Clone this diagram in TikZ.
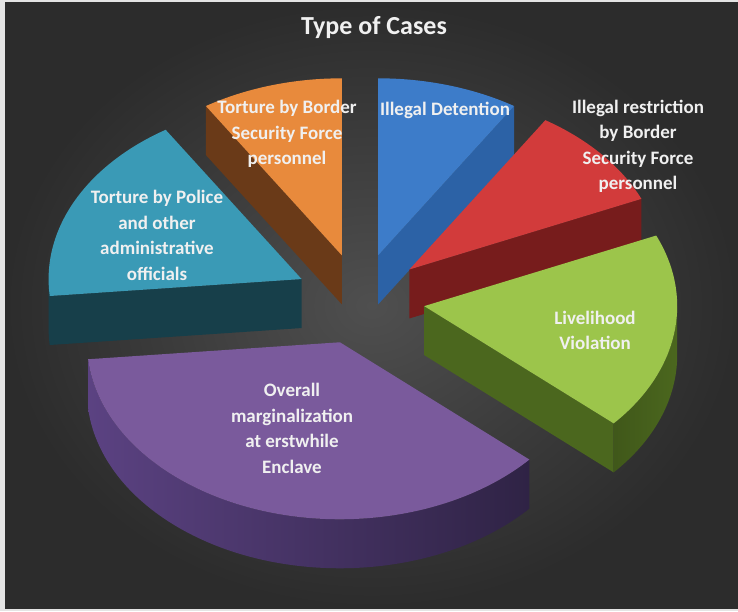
\documentclass[tikz,border=0pt]{standalone}
\usepackage{fontspec}
\setmainfont{Carlito}
\usepackage{tikz}
\usetikzlibrary{calc}

\definecolor{framegray}{HTML}{E4E4E4}
\definecolor{bgcentre}{HTML}{4F4F4F}
\definecolor{bgedge}{HTML}{2C2C2C}
\definecolor{bluetop}{HTML}{3D7CC9}
\definecolor{blueside}{HTML}{2C62A6}
\definecolor{orangetop}{HTML}{E88A3C}
\definecolor{orangeside}{HTML}{6A3A18}
\definecolor{redtop}{HTML}{D23B3B}
\definecolor{redside}{HTML}{771C1C}
\definecolor{tealtop}{HTML}{3A9AB6}
\definecolor{tealside}{HTML}{173F4A}
\definecolor{greentop}{HTML}{9CC54B}
\definecolor{greenside}{HTML}{4B671E}
\definecolor{purpletop}{HTML}{7A5A9C}
\definecolor{purplesideL}{HTML}{5B4282}
\definecolor{purplesideR}{HTML}{2F2345}

\begin{document}
\begin{tikzpicture}[x=1pt, y=1pt,
    piearc/.style={x radius=253pt, y radius=177pt},
    slicetext/.style={text=white!94!black, align=center, font=\bfseries\fontsize{19}{25.5}\selectfont}]

    \useasboundingbox (0,0) rectangle (738,611);

    % Frame and dark background
    \fill[framegray] (0,0) rectangle (738,611);
    \shade[inner color=bgcentre, outer color=bgedge] (5,3) rectangle (738,608);

    \coordinate (centre) at (360,312);

    % Illegal Detention
    \begin{scope}[shift={($(centre)+(73.75:65pt and 45.5pt)$)}]
        \fill[blueside] (0,0) -- (57.5:253pt and 177pt) -- ++(0,-49) -- (0,-49) -- cycle;
        \fill[bluetop] (0,0) -- (57.5:253pt and 177pt) arc[piearc, start angle=57.5, end angle=90] -- cycle;
    \end{scope}

    % Torture by Border Security Force personnel
    \begin{scope}[shift={($(centre)+(106.25:65pt and 45.5pt)$)}]
        \fill[orangeside] (0,0) -- (122.5:253pt and 177pt) -- ++(0,-49) -- (0,-49) -- cycle;
        \fill[orangetop] (0,0) -- (90:253pt and 177pt) arc[piearc, start angle=90, end angle=122.5] -- cycle;
    \end{scope}

    % Illegal restriction by Border Security Force personnel
    \begin{scope}[shift={($(centre)+(40.5:65pt and 45.5pt)$)}]
        \fill[redside] (0,0) -- (23.5:253pt and 177pt) -- ++(0,-49) -- (0,-49) -- cycle;
        \fill[redtop] (0,0) -- (23.5:253pt and 177pt) arc[piearc, start angle=23.5, end angle=57.5] -- cycle;
    \end{scope}

    % Torture by Police and other administrative officials
    \begin{scope}[shift={($(centre)+(154:65pt and 45.5pt)$)}]
        \fill[tealside] (0,0) -- (185.5:253pt and 177pt) -- ++(0,-49) -- (0,-49) -- cycle;
        \fill[tealside] (180:253pt and 177pt) arc[piearc, start angle=180, end angle=185.5] -- ++(0,-49)
            arc[piearc, start angle=185.5, end angle=180] -- cycle;
        \fill[tealtop] (0,0) -- (122.5:253pt and 177pt) arc[piearc, start angle=122.5, end angle=185.5] -- cycle;
    \end{scope}

    % Livelihood Violation
    \begin{scope}[shift={($(centre)+(351:65pt and 45.5pt)$)}]
        \fill[greenside] (0,0) -- (318.5:253pt and 177pt) -- ++(0,-49) -- (0,-49) -- cycle;
        \shade[left color=greenside!85!black, right color=greenside] (318.5:253pt and 177pt) arc[piearc, start angle=318.5, end angle=360] -- ++(0,-49)
            arc[piearc, start angle=360, end angle=318.5] -- cycle;
        \fill[greentop] (0,0) -- (318.5:253pt and 177pt) arc[piearc, start angle=318.5, end angle=383.5] -- cycle;
    \end{scope}

    % Overall marginalization at erstwhile Enclave
    \begin{scope}[shift={($(centre)+(252:65pt and 45.5pt)$)}]
        \shade[left color=purplesideL, right color=purplesideR] (185.5:253pt and 177pt) arc[piearc, start angle=185.5, end angle=318.5] -- ++(0,-49)
            arc[piearc, start angle=318.5, end angle=185.5] -- cycle;
        \fill[purpletop] (0,0) -- (185.5:253pt and 177pt) arc[piearc, start angle=185.5, end angle=318.5] -- cycle;
    \end{scope}

    % Title and slice labels
    \node (title) [text=white!94!black, font=\bfseries\fontsize{26}{30}\selectfont] at (374,583) {Type of Cases};
    \node (detention) [slicetext] at (445,501) {Illegal Detention};
    \node (bsftorture) [slicetext] at (287,477) {Torture by Border\\Security Force\\personnel};
    \node (restriction) [slicetext] at (638,464.5) {Illegal restriction\\by Border\\Security Force\\personnel};
    \node (police) [slicetext] at (157,375.5) {Torture by Police\\and other\\administrative\\officials};
    \node (livelihood) [slicetext] at (595,280.5) {Livelihood\\Violation};
    \node (enclave) [slicetext] at (292,182.5) {Overall\\marginalization\\at erstwhile\\Enclave};

\end{tikzpicture}
\end{document}
